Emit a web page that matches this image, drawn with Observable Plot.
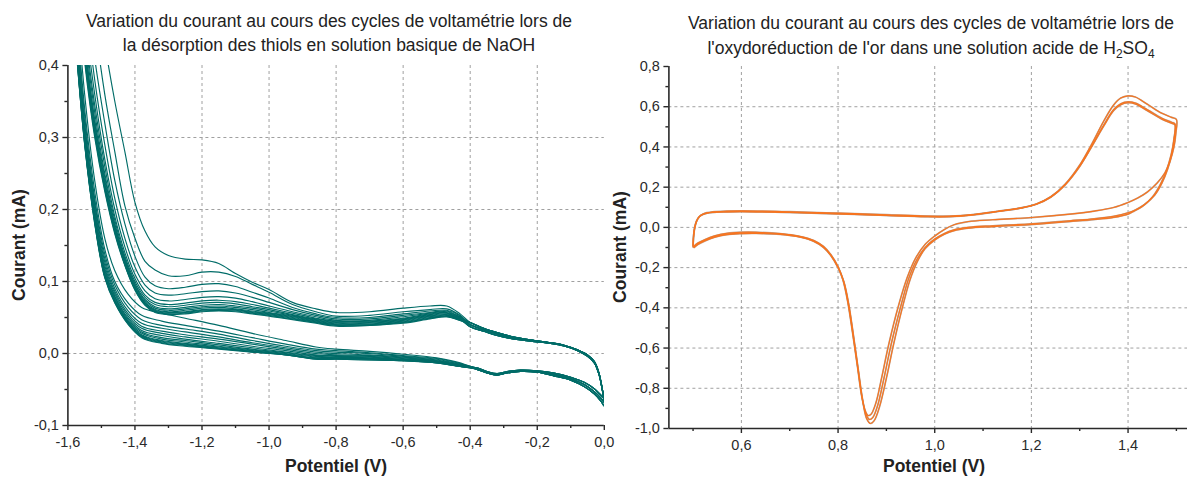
<!DOCTYPE html>
<html><head><meta charset="utf-8">
<script src="https://cdn.jsdelivr.net/npm/d3@7"></script>
<script src="https://cdn.jsdelivr.net/npm/@observablehq/plot@0.6"></script>
<style>
body{margin:0;background:#fff;overflow:hidden}
#wrap{position:relative;width:1187px;height:477px;font-family:"Liberation Sans",Arial,sans-serif;color:#222;overflow:hidden}
.title{position:absolute;text-align:center;font-size:17.5px;white-space:nowrap;transform:translateX(-50%)}
.title sub{font-size:12px;line-height:0;vertical-align:-4px}
.xl{position:absolute;font-weight:bold;font-size:17.5px;white-space:nowrap;transform:translateX(-50%)}
.yl{position:absolute;font-weight:bold;font-size:17.5px;white-space:nowrap;transform:translate(-50%,-50%) rotate(-90deg)}
.panel{position:absolute;top:0}
.panel svg{max-width:none;background:transparent}
</style></head>
<body>
<div id="wrap">
  <div class="title" style="left:329px;top:9px;line-height:24px">Variation du courant au cours des cycles de voltamétrie lors de<br>la désorption des thiols en solution basique de NaOH</div>
  <div class="title" style="left:931px;top:11px;line-height:25px">Variation du courant au cours des cycles de voltamétrie lors de<br>l'oxydoréduction de l'or dans une solution acide de H<sub>2</sub>SO<sub>4</sub></div>
  <div id="left" class="panel" style="left:0"></div>
  <div id="right" class="panel" style="left:600px"></div>
  <div class="xl" style="left:336px;top:456px">Potentiel (V)</div>
  <div class="xl" style="left:934px;top:456px">Potentiel (V)</div>
  <div class="yl" style="left:19px;top:245px">Courant (mA)</div>
  <div class="yl" style="left:620px;top:247px">Courant (mA)</div>
</div>
<script>
// ---------- LEFT PANEL DATA (NaOH, thiol desorption) ----------
const leftXTicks = [-1.6,-1.4,-1.2,-1.0,-0.8,-0.6,-0.4,-0.2,0.0];
const leftXMinor = [-1.5,-1.3,-1.1,-0.9,-0.7,-0.5,-0.3,-0.1];
const leftYTicks = [-0.1,0.0,0.1,0.2,0.3,0.4];
const leftYMinor = [-0.05,0.05,0.15,0.25,0.35];
const leftGridX = [-1.4,-1.2,-1.0,-0.8,-0.6,-0.4,-0.2];
const leftGridY = [0.0,0.1,0.2,0.3];

// anodic (upper) branch, per cycle
const leftUpperV = [-1.58,-1.55,-1.52,-1.49,-1.46,-1.43,-1.40,-1.37,-1.34,-1.30,-1.25,-1.20,-1.15,-1.10,-1.05,-1.00,-0.93,-0.86,-0.80,-0.70,-0.60,-0.52,-0.47,-0.43];
const leftUpperCycles = [
 [0.80,0.65,0.52,0.43,0.35,0.28,0.21,0.17,0.148,0.136,0.131,0.130,0.125,0.111,0.099,0.089,0.071,0.062,0.057,0.058,0.063,0.066,0.066,0.055],
 [0.75,0.58,0.46,0.36,0.28,0.205,0.16,0.128,0.116,0.108,0.108,0.113,0.113,0.107,0.096,0.085,0.068,0.058,0.052,0.053,0.058,0.061,0.062,0.053],
 [0.70,0.53,0.41,0.32,0.24,0.18,0.135,0.106,0.094,0.090,0.092,0.096,0.097,0.093,0.085,0.077,0.064,0.055,0.050,0.050,0.055,0.059,0.060,0.052],
 [0.66,0.50,0.38,0.29,0.215,0.16,0.12,0.095,0.084,0.081,0.083,0.086,0.087,0.084,0.078,0.071,0.061,0.053,0.048,0.048,0.053,0.057,0.059,0.051],
 [0.63,0.47,0.36,0.27,0.20,0.148,0.11,0.087,0.076,0.073,0.075,0.078,0.079,0.077,0.072,0.066,0.058,0.051,0.046,0.046,0.051,0.056,0.058,0.050],
 [0.61,0.455,0.345,0.26,0.19,0.14,0.104,0.081,0.071,0.068,0.070,0.073,0.074,0.072,0.068,0.063,0.056,0.049,0.045,0.045,0.049,0.055,0.057,0.050],
 [0.60,0.445,0.335,0.25,0.185,0.135,0.10,0.078,0.068,0.065,0.067,0.070,0.071,0.069,0.065,0.061,0.054,0.048,0.044,0.044,0.048,0.054,0.056,0.049],
 [0.59,0.435,0.325,0.245,0.18,0.132,0.097,0.075,0.065,0.062,0.064,0.067,0.068,0.066,0.063,0.059,0.053,0.047,0.043,0.043,0.047,0.053,0.055,0.049],
 [0.58,0.43,0.32,0.24,0.177,0.13,0.095,0.073,0.063,0.060,0.062,0.065,0.066,0.064,0.061,0.057,0.052,0.046,0.042,0.042,0.046,0.052,0.054,0.048],
 [0.575,0.425,0.315,0.236,0.174,0.128,0.093,0.071,0.061,0.058,0.060,0.063,0.064,0.062,0.059,0.056,0.051,0.045,0.041,0.041,0.045,0.051,0.053,0.048],
 [0.57,0.42,0.31,0.233,0.172,0.126,0.091,0.070,0.060,0.057,0.058,0.061,0.062,0.061,0.058,0.055,0.050,0.044,0.040,0.040,0.044,0.050,0.052,0.047],
 [0.565,0.415,0.307,0.23,0.17,0.124,0.090,0.069,0.059,0.056,0.057,0.060,0.061,0.060,0.057,0.054,0.049,0.043,0.040,0.040,0.043,0.049,0.052,0.047],
 [0.56,0.41,0.304,0.228,0.168,0.123,0.089,0.068,0.058,0.055,0.056,0.059,0.060,0.059,0.056,0.053,0.048,0.043,0.039,0.039,0.043,0.049,0.051,0.046],
 [0.555,0.405,0.30,0.225,0.166,0.122,0.088,0.067,0.057,0.054,0.055,0.058,0.059,0.058,0.055,0.052,0.047,0.042,0.038,0.039,0.042,0.048,0.051,0.046]
];
// converged end of the anodic branch (three nearly identical traces)
const leftUpperTailV = [-0.40,-0.36,-0.32,-0.28,-0.22,-0.16,-0.12,-0.08,-0.05,-0.03,-0.016,-0.006,0.0];
const leftUpperTails = [
 [0.043,0.035,0.029,0.024,0.019,0.015,0.0115,0.005,-0.002,-0.011,-0.027,-0.049,-0.064],
 [0.040,0.033,0.027,0.022,0.018,0.0145,0.011,0.0045,-0.003,-0.012,-0.028,-0.050,-0.065],
 [0.037,0.031,0.025,0.021,0.017,0.014,0.0105,0.004,-0.004,-0.013,-0.029,-0.051,-0.066]
];
// start of the cathodic branch near 0 V
const leftLowerTailV = [0.0,-0.01,-0.03,-0.06,-0.10,-0.15,-0.20,-0.25,-0.29,-0.32,-0.35,-0.38];
const leftLowerTails = [
 [-0.073,-0.066,-0.056,-0.046,-0.037,-0.031,-0.026,-0.025,-0.027,-0.030,-0.027,-0.022],
 [-0.068,-0.062,-0.053,-0.043,-0.035,-0.029,-0.025,-0.024,-0.026,-0.029,-0.026,-0.021],
 [-0.063,-0.058,-0.049,-0.040,-0.033,-0.027,-0.024,-0.023,-0.025,-0.028,-0.025,-0.020]
];
// cathodic (lower) branch, per cycle
const leftLowerV = [-0.43,-0.50,-0.60,-0.70,-0.80,-0.86,-0.95,-1.05,-1.15,-1.25,-1.32,-1.38,-1.42,-1.46,-1.49,-1.52,-1.55,-1.58];
const leftLowerCycles = [
 [-0.013,-0.006,-0.001,0.003,0.006,0.009,0.018,0.028,0.039,0.049,0.056,0.064,0.082,0.115,0.16,0.24,0.36,0.53],
 [-0.014,-0.007,-0.003,0.001,0.004,0.006,0.013,0.022,0.031,0.039,0.045,0.053,0.070,0.100,0.145,0.225,0.34,0.51],
 [-0.015,-0.008,-0.004,0.000,0.002,0.004,0.010,0.018,0.027,0.034,0.039,0.047,0.064,0.095,0.138,0.215,0.33,0.50],
 [-0.015,-0.009,-0.005,-0.002,0.000,0.002,0.008,0.015,0.023,0.030,0.035,0.042,0.059,0.090,0.132,0.21,0.32,0.49],
 [-0.016,-0.010,-0.006,-0.003,-0.002,0.000,0.006,0.013,0.020,0.026,0.031,0.038,0.055,0.086,0.127,0.205,0.315,0.48],
 [-0.016,-0.010,-0.007,-0.004,-0.003,-0.002,0.004,0.010,0.017,0.023,0.028,0.035,0.052,0.083,0.122,0.20,0.31,0.475],
 [-0.017,-0.011,-0.008,-0.005,-0.004,-0.003,0.002,0.008,0.014,0.020,0.025,0.032,0.049,0.080,0.118,0.196,0.305,0.47],
 [-0.017,-0.011,-0.008,-0.006,-0.005,-0.004,0.001,0.006,0.012,0.018,0.022,0.030,0.047,0.078,0.115,0.192,0.30,0.465],
 [-0.017,-0.012,-0.009,-0.007,-0.006,-0.005,0.000,0.005,0.010,0.016,0.020,0.028,0.045,0.076,0.112,0.189,0.298,0.46],
 [-0.018,-0.012,-0.009,-0.007,-0.006,-0.006,-0.001,0.004,0.009,0.014,0.018,0.026,0.044,0.074,0.110,0.186,0.296,0.458],
 [-0.018,-0.012,-0.009,-0.008,-0.007,-0.007,-0.001,0.003,0.008,0.013,0.017,0.025,0.043,0.073,0.108,0.184,0.294,0.455],
 [-0.018,-0.013,-0.010,-0.008,-0.007,-0.007,-0.002,0.003,0.007,0.012,0.016,0.024,0.042,0.072,0.107,0.183,0.292,0.453],
 [-0.018,-0.013,-0.010,-0.009,-0.008,-0.008,-0.002,0.002,0.007,0.011,0.015,0.023,0.041,0.071,0.106,0.181,0.291,0.451],
 [-0.018,-0.013,-0.010,-0.009,-0.008,-0.008,-0.002,0.002,0.006,0.010,0.014,0.022,0.040,0.070,0.105,0.180,0.290,0.450]
];

// ---------- RIGHT PANEL DATA (H2SO4, gold redox) ----------
const rightXTicks = [0.6,0.8,1.0,1.2,1.4];
const rightXMinor = [0.5,0.7,0.9,1.1,1.3,1.5];
const rightYTicks = [-1.0,-0.8,-0.6,-0.4,-0.2,0.0,0.2,0.4,0.6,0.8];
const rightYMinor = [-0.9,-0.7,-0.5,-0.3,-0.1,0.1,0.3,0.5,0.7];
const rightGridX = [0.6,0.8,1.0,1.2,1.4];
const rightGridY = [-0.8,-0.6,-0.4,-0.2,0.0,0.2,0.4,0.6];

const rightCycleA = [
[0.500,-0.097],[0.501,-0.05],[0.503,-0.01],[0.507,0.028],[0.513,0.053],[0.522,0.068],[0.54,0.077],[0.57,0.081],[0.60,0.082],[0.70,0.078],[0.80,0.071],[0.90,0.063],[0.98,0.057],[1.03,0.056],[1.08,0.064],[1.13,0.080],[1.18,0.098],[1.21,0.116],[1.24,0.152],[1.27,0.215],[1.30,0.31],[1.325,0.415],[1.35,0.53],[1.37,0.608],[1.385,0.643],[1.40,0.654],[1.415,0.648],[1.44,0.612],[1.47,0.567],[1.49,0.547],[1.500,0.537],
[1.499,0.47],[1.495,0.40],[1.487,0.33],[1.476,0.27],[1.46,0.22],[1.44,0.176],[1.42,0.146],[1.40,0.124],[1.37,0.099],[1.33,0.081],[1.28,0.066],[1.20,0.049],[1.12,0.038],[1.07,0.029],[1.04,0.013],[1.02,-0.01],[1.00,-0.043],[0.98,-0.085],[0.96,-0.155],[0.943,-0.25],[0.925,-0.39],[0.905,-0.58],[0.89,-0.75],[0.878,-0.875],[0.868,-0.93],[0.862,-0.935],[0.856,-0.91],[0.849,-0.84],[0.84,-0.69],[0.83,-0.525],[0.82,-0.37],[0.81,-0.26],[0.80,-0.195],[0.785,-0.135],[0.77,-0.095],[0.75,-0.065],[0.72,-0.044],[0.68,-0.031],[0.63,-0.024],[0.60,-0.024],[0.57,-0.029],[0.545,-0.042],[0.525,-0.06],[0.51,-0.078],[0.502,-0.093]
];
const rightCycleB = [
[0.500,-0.092],[0.501,-0.045],[0.503,-0.006],[0.507,0.03],[0.513,0.053],[0.522,0.066],[0.54,0.074],[0.57,0.077],[0.60,0.078],[0.70,0.074],[0.80,0.067],[0.90,0.059],[0.98,0.053],[1.03,0.053],[1.08,0.062],[1.13,0.079],[1.18,0.097],[1.21,0.115],[1.24,0.151],[1.27,0.213],[1.30,0.305],[1.325,0.405],[1.35,0.51],[1.37,0.585],[1.385,0.615],[1.40,0.624],[1.415,0.618],[1.44,0.585],[1.47,0.543],[1.49,0.523],[1.497,0.515],
[1.496,0.45],[1.491,0.37],[1.482,0.29],[1.47,0.22],[1.455,0.16],[1.435,0.115],[1.415,0.087],[1.40,0.073],[1.37,0.055],[1.33,0.043],[1.28,0.033],[1.20,0.018],[1.12,0.008],[1.07,0.0],[1.04,-0.012],[1.02,-0.03],[1.00,-0.058],[0.98,-0.1],[0.962,-0.165],[0.946,-0.255],[0.93,-0.39],[0.91,-0.58],[0.895,-0.75],[0.882,-0.885],[0.872,-0.945],[0.865,-0.955],[0.858,-0.93],[0.85,-0.85],[0.841,-0.70],[0.831,-0.53],[0.821,-0.375],[0.811,-0.265],[0.80,-0.2],[0.785,-0.138],[0.77,-0.098],[0.75,-0.068],[0.72,-0.046],[0.68,-0.033],[0.63,-0.027],[0.60,-0.028],[0.57,-0.033],[0.545,-0.046],[0.525,-0.064],[0.51,-0.082],[0.502,-0.097]
];
const rightCycleC = [
[0.500,-0.088],[0.501,-0.042],[0.503,-0.004],[0.507,0.031],[0.513,0.054],[0.522,0.067],[0.54,0.075],[0.57,0.078],[0.60,0.079],[0.70,0.075],[0.80,0.068],[0.90,0.060],[0.98,0.054],[1.03,0.054],[1.08,0.063],[1.13,0.079],[1.18,0.097],[1.21,0.115],[1.24,0.15],[1.27,0.212],[1.30,0.303],[1.325,0.402],[1.35,0.505],[1.37,0.58],[1.385,0.61],[1.40,0.62],[1.415,0.614],[1.44,0.58],[1.47,0.538],[1.49,0.518],[1.497,0.51],
[1.495,0.44],[1.489,0.36],[1.479,0.28],[1.466,0.21],[1.45,0.15],[1.43,0.105],[1.41,0.078],[1.40,0.066],[1.37,0.05],[1.33,0.039],[1.28,0.029],[1.20,0.014],[1.12,0.004],[1.07,-0.004],[1.04,-0.016],[1.02,-0.034],[1.00,-0.063],[0.98,-0.106],[0.964,-0.17],[0.949,-0.26],[0.934,-0.39],[0.915,-0.58],[0.90,-0.75],[0.886,-0.89],[0.875,-0.96],[0.867,-0.975],[0.859,-0.95],[0.851,-0.86],[0.842,-0.71],[0.832,-0.54],[0.822,-0.38],[0.812,-0.27],[0.80,-0.2],[0.785,-0.14],[0.77,-0.1],[0.75,-0.07],[0.72,-0.048],[0.68,-0.035],[0.63,-0.03],[0.60,-0.031],[0.57,-0.036],[0.545,-0.049],[0.525,-0.067],[0.51,-0.085],[0.502,-0.1]
];

// ---------- BUILD ----------
const fmt = d => d.toFixed(1).replace(".", ",");
const blank = () => "";
const TEAL = "#006c68";
const ORANGE = "#f7741f";
const AXIS = "#2a2a2a";
const GRID = {stroke: "#a0a0a0", strokeOpacity: 1, strokeWidth: 1, strokeDasharray: "3,3"};
const FONT = "'Liberation Sans', Arial, sans-serif";

const leftRows = [];
leftUpperCycles.forEach((up, k) => {
  const ut = leftUpperTails[k % 3], lt = leftLowerTails[k % 3], lo = leftLowerCycles[k];
  leftUpperV.forEach((v, j) => leftRows.push({c: k, v, i: up[j]}));
  leftUpperTailV.forEach((v, j) => leftRows.push({c: k, v, i: ut[j]}));
  leftLowerTailV.forEach((v, j) => leftRows.push({c: k, v, i: lt[j]}));
  leftLowerV.forEach((v, j) => leftRows.push({c: k, v, i: lo[j]}));
});

const rightRows = [];
[rightCycleA, rightCycleB, rightCycleC].forEach((cyc, k) => {
  cyc.forEach(([v, i]) => rightRows.push({c: k, v, i}));
});

function axes(xT, xM, yT, yM, xmin, ymin) {
  return [
    Plot.axisX(xT, {tickSize: 5, tickPadding: 6, tickFormat: fmt, label: null, strokeWidth: 1.4, stroke: AXIS, fill: AXIS, fontSize: 14.5}),
    Plot.axisX(xM, {tickSize: 3, tickFormat: blank, label: null, strokeWidth: 1.4, stroke: AXIS}),
    Plot.axisY(yT, {tickSize: 5, tickPadding: 4, tickFormat: fmt, label: null, strokeWidth: 1.4, stroke: AXIS, fill: AXIS, fontSize: 14.5}),
    Plot.axisY(yM, {tickSize: 3, tickFormat: blank, label: null, strokeWidth: 1.4, stroke: AXIS}),
    Plot.ruleX([xmin], {stroke: AXIS, strokeWidth: 1.6}),
    Plot.ruleY([ymin], {stroke: AXIS, strokeWidth: 1.6})
  ];
}

const left = Plot.plot({
  width: 620, height: 477,
  marginLeft: 67.4, marginRight: 16.2, marginTop: 65, marginBottom: 52,
  x: {domain: [-1.6, 0.0], label: null},
  y: {domain: [-0.1, 0.4], label: null},
  style: {fontFamily: FONT, fontSize: "14.5px", color: "#222", background: "transparent"},
  marks: [
    Plot.gridX(leftGridX, GRID),
    Plot.gridY(leftGridY, GRID),
    Plot.line(leftRows, {x: "v", y: "i", z: "c", stroke: TEAL, strokeWidth: 1.15, curve: "catmull-rom", clip: true}),
    ...axes(leftXTicks, leftXMinor, leftYTicks, leftYMinor, -1.6, -0.1)
  ]
});
document.getElementById("left").appendChild(left);

const right = Plot.plot({
  width: 587, height: 477,
  marginLeft: 68.4, marginRight: 0, marginTop: 66, marginBottom: 49,
  x: {domain: [0.45, 1.523], label: null},
  y: {domain: [-1.0, 0.8], label: null},
  style: {fontFamily: FONT, fontSize: "14.5px", color: "#222", background: "transparent"},
  marks: [
    Plot.gridX(rightGridX, GRID),
    Plot.gridY(rightGridY, GRID),
    Plot.line(rightRows, {x: "v", y: "i", z: "c", stroke: "#bca99c", strokeWidth: 1.7, curve: "catmull-rom", clip: true}),
    Plot.line(rightRows, {x: "v", y: "i", z: "c", stroke: ORANGE, strokeWidth: 1.1, curve: "catmull-rom", clip: true}),
    ...axes(rightXTicks, rightXMinor, rightYTicks, rightYMinor, 0.45, -1.0)
  ]
});
document.getElementById("right").appendChild(right);
</script>
</body></html>
